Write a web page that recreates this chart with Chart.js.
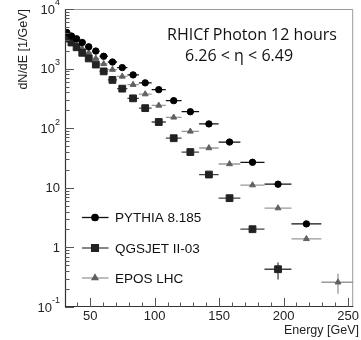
<!DOCTYPE html>
<html>
<head>
<meta charset="utf-8">
<script src="https://cdn.jsdelivr.net/npm/chart.js@4.4.0/dist/chart.umd.min.js"></script>
<style>
html, body { margin: 0; padding: 0; background: #fff; }
</style>
</head>
<body>
<canvas id="chart" width="361" height="340"></canvas>
<script>
// Bin centres and edges (GeV)
var energy  = [31.9, 35.5, 39.5, 43.9, 48.9, 54.4, 60.5, 67.3, 74.9, 83.3, 92.7, 103.2, 114.8, 127.7, 142.1, 158.1, 175.9, 195.7, 217.7, 242.2];
var binLow  = [30.2, 33.6, 37.4, 41.6, 46.3, 51.5, 57.3, 63.7, 70.9, 78.9, 87.8, 97.7, 108.7, 120.9, 134.5, 149.6, 166.5, 185.2, 206.1, 229.3];
var binHigh = [33.6, 37.4, 41.6, 46.3, 51.5, 57.3, 63.7, 70.9, 78.9, 87.8, 97.7, 108.7, 120.9, 134.5, 149.6, 166.5, 185.2, 206.1, 229.3, 255.1];

// dN/dE [1/GeV]
var pythia = [4030, 3520, 3160, 2740, 2320, 1970, 1610, 1290, 1040, 784, 577, 443, 290, 189, 118, 58.6, 26.8, 11.5, 2.48];
var qgsjet = [3190, 2740, 2280, 1840, 1480, 1170, 898, 646, 461, 317, 217, 127, 67.9, 39.8, 16.7, 6.7, 2.02, 0.43];
var epos   = [3490, 2960, 2530, 2170, 1840, 1480, 1200, 962, 739, 538, 373, 241, 152, 88.4, 46.5, 25.1, 11.1, 4.56, 1.39, 0.26];

// vertical error bars that are visible: [index, low, high]
var qgsjetYErr = [[17, 0.29, 0.56]];
var eposYErr   = [[19, 0.167, 0.36]];

var seriesNames = ['PYTHIA 8.185', 'QGSJET II-03', 'EPOS LHC'];
var yDecades = [0.1, 1, 10, 100, 1000, 10000];
var yDecadeText = [['10', '-1'], ['1', ''], ['10', ''], ['10', '2'], ['10', '3'], ['10', '4']];
var xTickValues = [50, 100, 150, 200, 250];

var labelFont = '"Liberation Sans", Arial, Helvetica, sans-serif';

function toPoints(vals) {
    var pts = [];
    for (var i = 0; i < vals.length; i++) {
        pts.push({ x: energy[i], y: vals[i] });
    }
    return pts;
}

var styles = [
    { point: 'circle',   radius: 3.2, fill: '#000', bar: '#111' },
    { point: 'rect',     radius: 4.8, fill: '#222', bar: '#444' },
    { point: 'triangle', radius: 3.4, fill: '#606060', bar: '#999' }
];
var seriesValues = [pythia, qgsjet, epos];
var seriesYErr = [[], qgsjetYErr, eposYErr];

// draws the ROOT-like frame, ticks, error bars, legend and captions
var rootStyle = {
    id: 'rootStyle',
    beforeDatasetsDraw: function (chart) {
        var ctx = chart.ctx, xs = chart.scales.x, ys = chart.scales.y, a = chart.chartArea;
        ctx.save();
        ctx.beginPath();
        ctx.rect(a.left, a.top, a.right - a.left, a.bottom - a.top);
        ctx.clip();
        ctx.lineWidth = 1.3;
        for (var s = 0; s < seriesValues.length; s++) {
            var vals = seriesValues[s];
            ctx.strokeStyle = styles[s].bar;
            for (var i = 0; i < vals.length; i++) {
                var py = ys.getPixelForValue(vals[i]);
                ctx.beginPath();
                ctx.moveTo(xs.getPixelForValue(binLow[i]), py);
                ctx.lineTo(xs.getPixelForValue(binHigh[i]), py);
                ctx.stroke();
            }
            var errs = seriesYErr[s];
            for (var k = 0; k < errs.length; k++) {
                var px = xs.getPixelForValue(energy[errs[k][0]]);
                ctx.beginPath();
                ctx.moveTo(px, ys.getPixelForValue(errs[k][1]));
                ctx.lineTo(px, ys.getPixelForValue(errs[k][2]));
                ctx.stroke();
            }
        }
        ctx.restore();
    },
    afterDraw: function (chart) {
        var ctx = chart.ctx, xs = chart.scales.x, ys = chart.scales.y, a = chart.chartArea;
        ctx.save();

        // frame
        ctx.lineWidth = 1;
        ctx.strokeStyle = '#9a9a9a';
        ctx.beginPath();
        ctx.moveTo(a.left, a.top + 0.5);
        ctx.lineTo(a.right - 0.5, a.top + 0.5);
        ctx.lineTo(a.right - 0.5, a.bottom);
        ctx.stroke();
        ctx.strokeStyle = '#333';
        ctx.lineWidth = 1.2;
        ctx.beginPath();
        ctx.moveTo(a.left + 0.5, a.top);
        ctx.lineTo(a.left + 0.5, a.bottom - 0.5);
        ctx.lineTo(a.right, a.bottom - 0.5);
        ctx.stroke();

        // y ticks (log)
        ctx.lineWidth = 1;
        ctx.strokeStyle = '#555';
        for (var d = 0; d < yDecades.length; d++) {
            for (var m = 1; m <= 9; m++) {
                var v = yDecades[d] * m;
                if (v > 10000) break;
                var py = Math.round(ys.getPixelForValue(v)) + 0.5;
                var len = (m === 1) ? 9 : 4.5;
                ctx.beginPath();
                ctx.moveTo(a.left, py);
                ctx.lineTo(a.left + len, py);
                ctx.stroke();
            }
        }
        // x ticks
        for (var e = 40; e <= 250; e += 10) {
            var px = Math.round(xs.getPixelForValue(e)) + 0.5;
            var l = (e % 50 === 0) ? 9 : 4.5;
            ctx.beginPath();
            ctx.moveTo(px, a.bottom);
            ctx.lineTo(px, a.bottom - l);
            ctx.stroke();
        }

        // y tick labels with superscripts
        ctx.fillStyle = '#222';
        ctx.textBaseline = 'middle';
        for (var t = 0; t < yDecades.length; t++) {
            var y = ys.getPixelForValue(yDecades[t]);
            var base = yDecadeText[t][0], sup = yDecadeText[t][1];
            var right = a.left - 5;
            var supW = 0;
            if (sup) {
                ctx.font = '9px ' + labelFont;
                supW = ctx.measureText(sup).width;
                ctx.textAlign = 'left';
                ctx.fillText(sup, right - supW, y - 6);
            }
            ctx.font = '13px ' + labelFont;
            ctx.textAlign = 'right';
            ctx.fillText(base, right - supW, y + 1);
        }

        // axis titles
        ctx.font = '12.5px ' + labelFont;
        ctx.fillStyle = '#222';
        ctx.textAlign = 'right';
        ctx.textBaseline = 'middle';
        ctx.fillText('Energy [GeV]', 359, 331);
        ctx.save();
        ctx.translate(24, 9);
        ctx.rotate(-Math.PI / 2);
        ctx.fillText('dN/dE [1/GeV]', 0, 0);
        ctx.restore();

        // legend
        var legendY = [217.5, 248, 278];
        ctx.font = '13.5px ' + labelFont;
        ctx.textAlign = 'left';
        for (var s = 0; s < seriesNames.length; s++) {
            var ly = legendY[s];
            ctx.strokeStyle = styles[s].bar;
            ctx.lineWidth = 1.3;
            ctx.beginPath();
            ctx.moveTo(82, ly);
            ctx.lineTo(108.5, ly);
            ctx.stroke();
            ctx.fillStyle = styles[s].fill;
            ctx.strokeStyle = styles[s].fill;
            Chart.helpers.drawPoint(ctx, { pointStyle: styles[s].point, radius: styles[s].radius, borderWidth: 1 }, 95, ly);
            ctx.fillStyle = '#111';
            ctx.fillText(seriesNames[s], 115, ly + 1);
        }

        // caption
        ctx.font = '16px "Open Sans", "Noto Sans", sans-serif';
        ctx.fillStyle = '#111';
        ctx.textAlign = 'left';
        ctx.fillText('RHICf Photon 12 hours', 167, 35);
        ctx.fillText('6.26 < \u03b7 < 6.49', 185, 56);
        ctx.restore();
    }
};

var datasets = [];
for (var s = 0; s < seriesNames.length; s++) {
    datasets.push({
        label: seriesNames[s],
        data: toPoints(seriesValues[s]),
        showLine: false,
        pointStyle: styles[s].point,
        pointRadius: styles[s].radius,
        pointBackgroundColor: styles[s].fill,
        pointBorderColor: styles[s].fill,
        pointBorderWidth: 1,
        clip: 0
    });
}

new Chart(document.getElementById('chart').getContext('2d'), {
    type: 'scatter',
    data: { datasets: datasets },
    plugins: [rootStyle],
    options: {
        responsive: false,
        animation: false,
        events: [],
        layout: { padding: { top: 9, right: 1, left: 0, bottom: 0 } },
        plugins: { legend: { display: false }, tooltip: { enabled: false } },
        scales: {
            x: {
                type: 'linear',
                min: 30.5,
                max: 254,
                afterBuildTicks: function (scale) {
                    scale.ticks = xTickValues.map(function (v) { return { value: v }; });
                },
                afterFit: function (scale) { scale.height = 33; },
                grid: { display: false, drawTicks: false },
                border: { display: false },
                ticks: {
                    autoSkip: false,
                    maxRotation: 0,
                    padding: 2,
                    color: '#222',
                    font: { family: labelFont, size: 13 }
                }
            },
            y: {
                type: 'logarithmic',
                min: 0.1,
                max: 10000,
                afterFit: function (scale) { scale.width = 65; },
                grid: { display: false },
                border: { display: false },
                ticks: { display: false }
            }
        }
    }
});
</script>
</body>
</html>
